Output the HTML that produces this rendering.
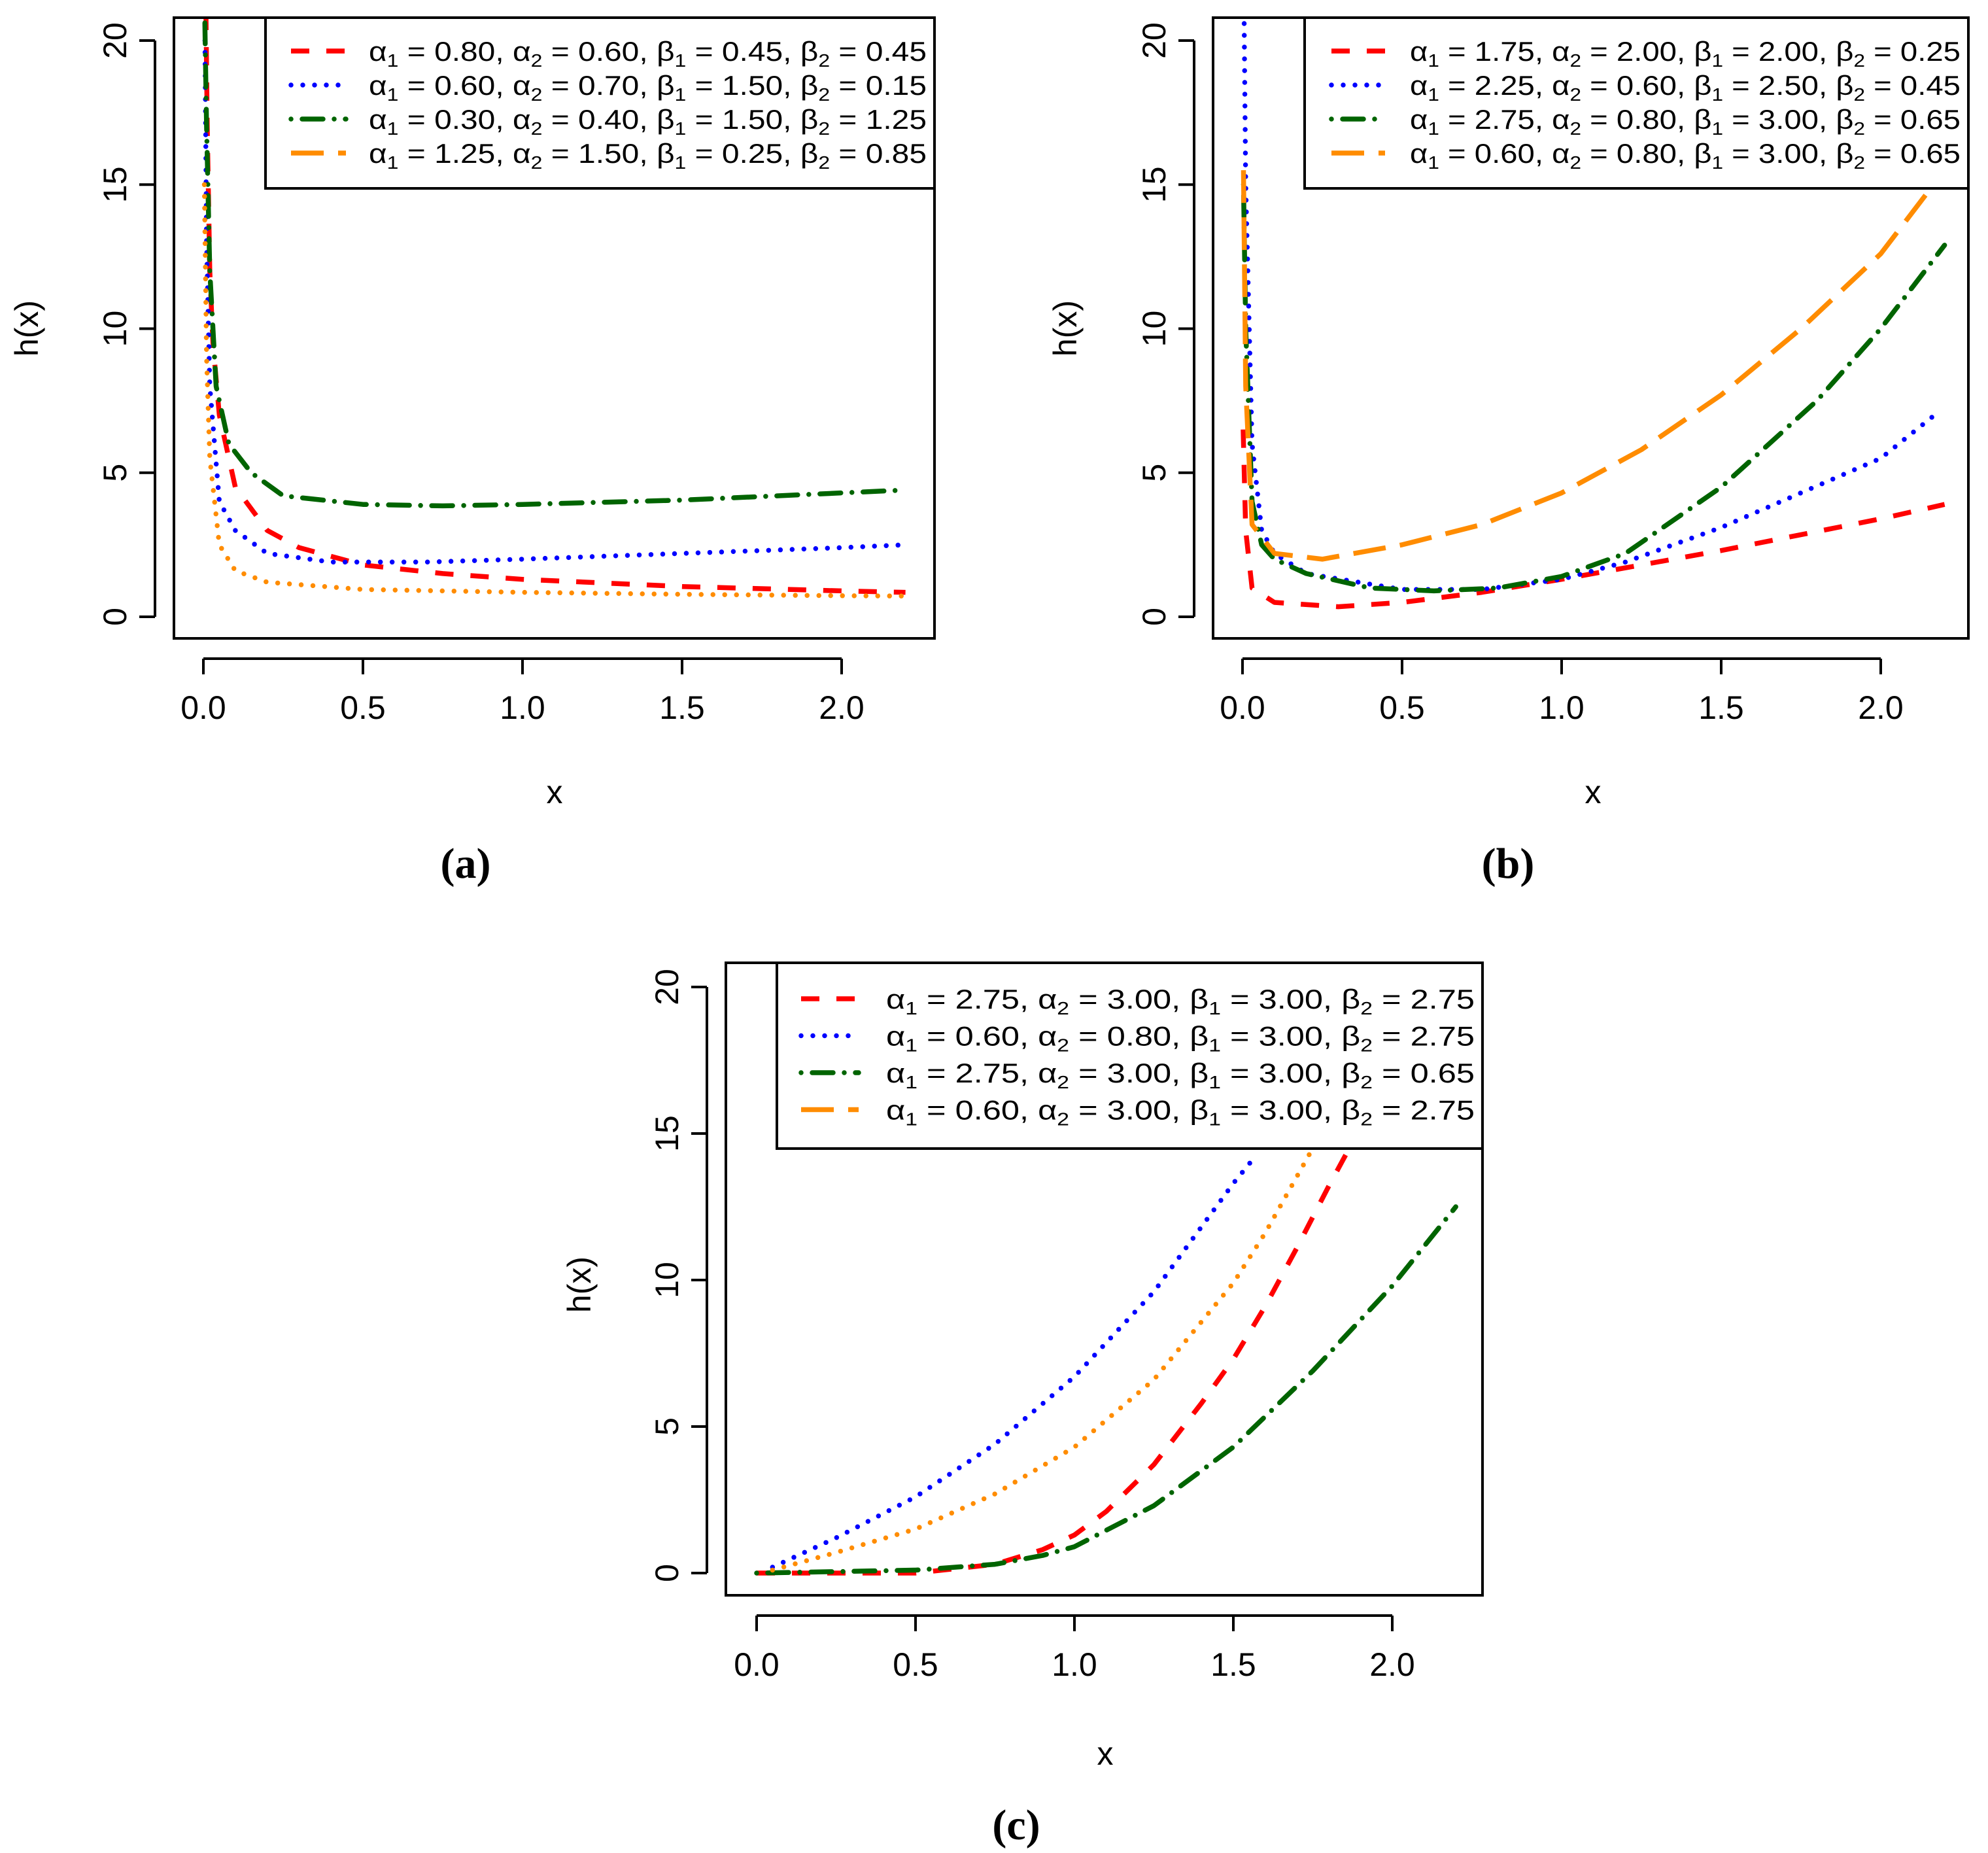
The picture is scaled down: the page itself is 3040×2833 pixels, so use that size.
<!DOCTYPE html>
<html><head><meta charset="utf-8">
<style>
html,body{margin:0;padding:0;background:#fff;}
svg{display:block;}
text{font-family:"Liberation Sans",sans-serif;fill:#000;}
.cap{font-family:"Liberation Serif",serif;font-weight:bold;}
</style></head>
<body>
<svg id="chart" width="3040" height="2833" viewBox="0 0 3040 2833" xmlns="http://www.w3.org/2000/svg">
<rect width="3040" height="2833" fill="#fff"/>
</svg>
<script>
// ---- data ----
const xTicks = [0.0, 0.5, 1.0, 1.5, 2.0];
const xTickLabels = ["0.0", "0.5", "1.0", "1.5", "2.0"];
const yTicks = [0, 5, 10, 15, 20];
const yTickLabels = ["0", "5", "10", "15", "20"];
const seriesColors = ["#ff0000", "#0000ff", "#006400", "#ff8c00"];

// panel a
const aRedX = [0.008,0.012,0.02,0.03,0.05,0.1,0.2,0.3,0.5,0.75,1.0,1.5,2.0,2.2];
const aRedY = [21,17,12,9.5,7,4.5,3,2.4,1.8,1.5,1.3,1.05,0.9,0.85];
const aBlueX = [0.005,0.01,0.02,0.05,0.1,0.2,0.4,0.7,1.0,1.5,2.0,2.2];
const aBlueY = [20,13,8,4,3,2.2,1.9,1.9,2.0,2.2,2.4,2.5];
const aGreenX = [0.004,0.01,0.02,0.04,0.08,0.15,0.25,0.5,0.75,1.0,1.5,2.0,2.2];
const aGreenY = [21,17,12,8,6,5,4.2,3.9,3.85,3.9,4.05,4.3,4.4];
const aOrangeX = [0.003,0.01,0.02,0.05,0.1,0.2,0.5,1.0,1.5,2.0,2.2];
const aOrangeY = [15,9,5.5,2.5,1.6,1.2,0.95,0.85,0.78,0.73,0.72];

// panel b
const bRedX = [0.002,0.01,0.03,0.1,0.3,0.5,0.75,1.0,1.5,2.0,2.2];
const bRedY = [6.5,3,1,0.5,0.35,0.5,0.85,1.3,2.3,3.4,3.9];
const bBlueX = [0.005,0.01,0.03,0.06,0.1,0.2,0.5,0.75,1.0,1.2,1.5,2.0,2.18];
const bBlueY = [21,15,6,3,2.2,1.5,0.95,0.95,1.3,1.9,3.1,5.5,7.1];
const bGreenX = [0.003,0.01,0.03,0.06,0.1,0.2,0.4,0.6,0.8,1.0,1.2,1.5,1.8,2.0,2.2];
const bGreenY = [15,10,4,2.5,2,1.5,1.0,0.9,1.0,1.4,2.2,4.5,7.5,10,12.9];
const bOrangeX = [0.003,0.01,0.03,0.1,0.25,0.5,0.75,1.0,1.25,1.5,1.75,2.0,2.2];
const bOrangeY = [15.5,8,3.2,2.2,2.0,2.5,3.2,4.3,5.8,7.7,10,12.6,15.5];

// panel c
const cRedX = [0,0.25,0.5,0.75,0.9,1.0,1.1,1.25,1.4,1.5,1.6,1.7,1.8,1.9,2.0];
const cRedY = [0,0,0,0.3,0.8,1.3,2.1,3.7,5.8,7.3,9.1,11.1,13.2,15.2,17.5];
const cBlueX = [0.05,0.25,0.5,0.75,1.0,1.25,1.5,1.56];
const cBlueY = [0.2,1.2,2.6,4.4,6.7,9.6,13.3,14.1];
const cGreenX = [0,0.25,0.5,0.75,0.9,1.0,1.25,1.5,1.75,2.0,2.2];
const cGreenY = [0,0.05,0.1,0.3,0.6,0.9,2.3,4.3,6.9,9.8,12.5];
const cOrangeX = [0.05,0.25,0.5,0.75,1.0,1.25,1.5,1.6,1.75];
const cOrangeY = [0.1,0.7,1.5,2.7,4.3,6.6,9.9,11.6,14.5];

const legendA = [["0.80","0.60","0.45","0.45"],["0.60","0.70","1.50","0.15"],["0.30","0.40","1.50","1.25"],["1.25","1.50","0.25","0.85"]];
const legendB = [["1.75","2.00","2.00","0.25"],["2.25","0.60","2.50","0.45"],["2.75","0.80","3.00","0.65"],["0.60","0.80","3.00","0.65"]];
const legendC = [["2.75","3.00","3.00","2.75"],["0.60","0.80","3.00","2.75"],["2.75","3.00","3.00","0.65"],["0.60","3.00","3.00","2.75"]];

// ---- drawing ----
const NS = "http://www.w3.org/2000/svg";
const svg = document.getElementById("chart");
function mk(tag, attrs, parent){
  const e = document.createElementNS(NS, tag);
  for (const k in attrs) e.setAttribute(k, attrs[k]);
  (parent||svg).appendChild(e);
  return e;
}
const dashes = ["28 26", "0 18", "0 17 32 17", "50 22"];
const caps = ["butt", "round", "round", "butt"];

function panel(cfg){
  const g = mk("g", {});
  
  
  const sx = v => cfg.x0 + (v - 0) * (cfg.x2 - cfg.x0) / 2;
  const sy = v => cfg.y0 - v * (cfg.y0 - cfg.y20) / 20;
  const clip = mk("clipPath", {id: cfg.name + "-clip"}, g);
  mk("rect", {x: cfg.fl, y: cfg.ft, width: cfg.fr - cfg.fl, height: cfg.fb - cfg.ft}, clip);
  const cg = mk("g", {"clip-path": "url(#" + cfg.name + "-clip)"}, g);
  cfg.series.forEach((s, i) => {
    const pts = s.xs.map((x, j) => sx(x).toFixed(1) + "," + sy(s.ys[j]).toFixed(1)).join(" ");
    const ln = mk("polyline", {points: pts, fill: "none", stroke: seriesColors[i], "stroke-width": 7.5,
      "stroke-dasharray": s.dash || dashes[i], "stroke-linecap": s.cap || caps[i], "stroke-linejoin": "round"}, cg);
    
    
  });
  const fr = mk("rect", {x: cfg.fl, y: cfg.ft, width: cfg.fr - cfg.fl, height: cfg.fb - cfg.ft, fill: "none", stroke: "#000", "stroke-width": 4}, g);
  
  
  const xa = mk("g", {}, g);
  
  
  mk("line", {x1: sx(xTicks[0]), x2: sx(xTicks[xTicks.length-1]), y1: cfg.xAxisY, y2: cfg.xAxisY, stroke: "#000", "stroke-width": 4}, xa);
  xTicks.forEach((t, i) => {
    mk("line", {x1: sx(t), x2: sx(t), y1: cfg.xAxisY, y2: cfg.xAxisY + 24, stroke: "#000", "stroke-width": 4}, xa);
    const tl = mk("text", {x: sx(t), y: cfg.xAxisY + 92, "text-anchor": "middle", "font-size": 50}, xa);
    tl.textContent = xTickLabels[i];
    
    
  });
  const ya = mk("g", {}, g);
  
  
  mk("line", {x1: cfg.yAxisX, x2: cfg.yAxisX, y1: sy(yTicks[0]), y2: sy(yTicks[yTicks.length-1]), stroke: "#000", "stroke-width": 4}, ya);
  yTicks.forEach((t, i) => {
    mk("line", {x1: cfg.yAxisX - 24, x2: cfg.yAxisX, y1: sy(t), y2: sy(t), stroke: "#000", "stroke-width": 4}, ya);
    const tx = cfg.yAxisX - 44, ty = sy(t);
    const tl = mk("text", {x: tx, y: ty, "text-anchor": "middle", "font-size": 50, transform: "rotate(-90 " + tx + " " + ty + ")"}, ya);
    tl.textContent = yTickLabels[i];
    
    
  });
  const xt = mk("text", {x: cfg.xLabX, y: cfg.xLabY, "text-anchor": "middle", "font-size": 50}, g);
  xt.textContent = "x";
  
  
  const yt = mk("text", {x: cfg.yLabX, y: cfg.yLabY, "text-anchor": "middle", "font-size": 50, transform: "rotate(-90 " + cfg.yLabX + " " + cfg.yLabY + ")"}, g);
  yt.textContent = "h(x)";
  
  
  const lg = mk("g", {}, g);
  
  
  mk("rect", {x: cfg.lx0, y: cfg.ly0, width: cfg.lx1 - cfg.lx0, height: cfg.ly1 - cfg.ly0, fill: "#fff", stroke: "#000", "stroke-width": 4}, lg);
  cfg.legend.forEach((p, i) => {
    const y = cfg.ly0 + cfg.lrow0 + i * cfg.lstep;
    const e = mk("g", {}, lg);
    
    
    mk("line", {x1: cfg.lsx0, x2: cfg.lsx1, y1: y, y2: y, stroke: seriesColors[i], "stroke-width": 7.5,
      "stroke-dasharray": dashes[i], "stroke-linecap": caps[i]}, e);
    const t = mk("text", {x: cfg.ltx, y: y + 15, "font-size": 42, textLength: cfg.lx1 - 12 - cfg.ltx, lengthAdjust: "spacingAndGlyphs"}, e);
    const sub = s => '<tspan font-size="28" dy="9">' + s + '</tspan><tspan dy="-9"> </tspan>';
    t.innerHTML = "α" + sub("1") + "= " + p[0] + ",  α" + sub("2") + " = " + p[1] + ", β" + sub("1") + " = " + p[2] + ", β" + sub("2") + " = " + p[3];
  });
  const cp = mk("text", {x: cfg.capX, y: cfg.capY, "text-anchor": "middle", "font-size": 66, class: "cap"}, g);
  cp.textContent = cfg.cap;
  
  
}

panel({name: "panel-a", fl: 266, fr: 1429, ft: 27, fb: 976, x0: 311, x2: 1287, y0: 943, y20: 62,
  xAxisY: 1007, yAxisX: 237, xLabX: 848, xLabY: 1228, yLabX: 58, yLabY: 502,
  lx0: 406, lx1: 1429, ly0: 27, ly1: 288, lrow0: 51, lstep: 52, lsx0: 445, lsx1: 529, ltx: 564,
  legend: legendA, capX: 712, capY: 1342, cap: "(a)",
  series: [{xs: aRedX, ys: aRedY}, {xs: aBlueX, ys: aBlueY}, {xs: aGreenX, ys: aGreenY}, {xs: aOrangeX, ys: aOrangeY, dash: "0 18", cap: "round"}]});
panel({name: "panel-b", fl: 1855, fr: 3010, ft: 27, fb: 976, x0: 1900, x2: 2876, y0: 943, y20: 62,
  xAxisY: 1007, yAxisX: 1826, xLabX: 2436, xLabY: 1228, yLabX: 1646, yLabY: 502,
  lx0: 1995, lx1: 3010, ly0: 27, ly1: 288, lrow0: 51, lstep: 52, lsx0: 2036, lsx1: 2118, ltx: 2156,
  legend: legendB, capX: 2306, capY: 1342, cap: "(b)",
  series: [{xs: bRedX, ys: bRedY}, {xs: bBlueX, ys: bBlueY}, {xs: bGreenX, ys: bGreenY}, {xs: bOrangeX, ys: bOrangeY}]});
panel({name: "panel-c", fl: 1110, fr: 2267, ft: 1472, fb: 2439, x0: 1157, x2: 2129, y0: 2405, y20: 1509,
  xAxisY: 2470, yAxisX: 1081, xLabX: 1690, xLabY: 2698, yLabX: 903, yLabY: 1964,
  lx0: 1188, lx1: 2267, ly0: 1472, ly1: 1756, lrow0: 55, lstep: 56.5, lsx0: 1225, lsx1: 1313, ltx: 1355,
  legend: legendC, capX: 1554, capY: 2812, cap: "(c)",
  series: [{xs: cRedX, ys: cRedY}, {xs: cBlueX, ys: cBlueY}, {xs: cGreenX, ys: cGreenY}, {xs: cOrangeX, ys: cOrangeY, dash: "0 18", cap: "round"}]});
</script>
</body></html>
